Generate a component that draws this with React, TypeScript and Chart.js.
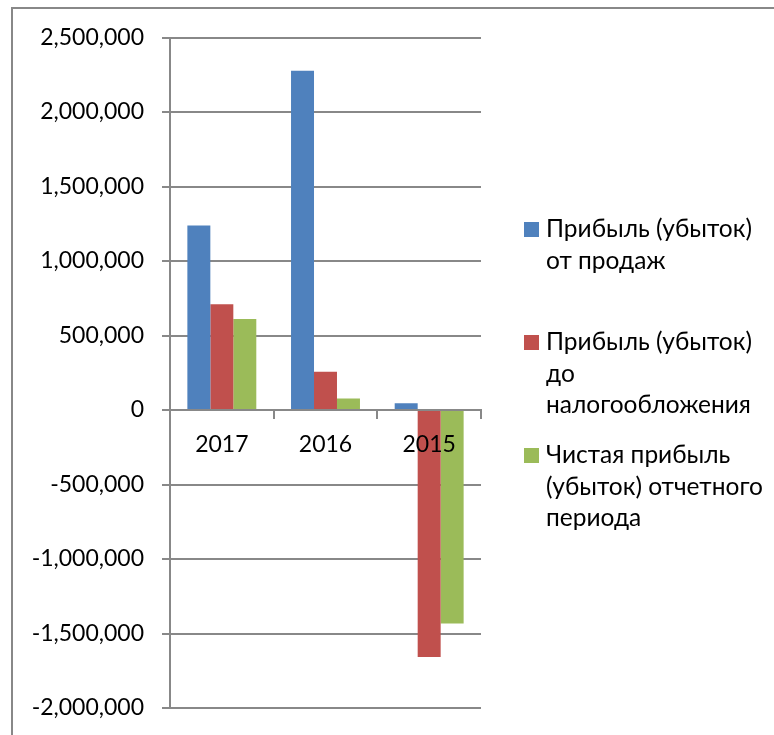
import React, { useEffect, useRef } from "react";
import { Chart, registerables } from "chart.js";

Chart.register(...registerables);

const categories = ["2017", "2016", "2015"];
const salesProfit = [1238000, 2277000, 45000];
const preTaxProfit = [710000, 257000, -1657000];
const netProfit = [611000, 78000, -1433000];
const seriesLabels = [
  ["Прибыль (убыток)", "от продаж"],
  ["Прибыль (убыток)", "до", "налогообложения"],
  ["Чистая прибыль", "(убыток) отчетного", "периода"],
];
const seriesColors = ["#4F81BD", "#C0504D", "#9BBB59"];
const yMin = -2000000;
const yMax = 2500000;
const yStep = 500000;

const FONT = "Lato, 'Open Sans', 'Noto Sans', sans-serif";
const GRID = "#888888";

export default function App() {
  const ref = useRef<HTMLCanvasElement | null>(null);

  useEffect(() => {
    if (!ref.current) return;
    const chart = new Chart(ref.current, {
      type: "bar",
      data: {
        labels: categories,
        datasets: [salesProfit, preTaxProfit, netProfit].map((d, i) => ({
          label: seriesLabels[i].join(" "),
          data: d,
          backgroundColor: seriesColors[i],
          borderWidth: 0,
          categoryPercentage: 0.665,
          barPercentage: 1,
        })),
      },
      options: {
        responsive: false,
        animation: false,
        layout: { padding: { left: 0, right: 293, top: 37.5, bottom: 27 } },
        plugins: { legend: { display: false }, tooltip: { enabled: false } },
        scales: {
          x: {
            position: { y: 0 },
            afterFit: (s: any) => {
              s.height = 0;
            },
            grid: {
              display: true,
              drawOnChartArea: false,
              drawTicks: true,
              tickLength: 8,
              offset: true,
              color: GRID,
              lineWidth: 2,
            },
            border: { display: true, color: GRID, width: 2 },
            ticks: {
              color: "#000",
              font: { family: FONT, size: 23 },
              padding: 13,
              maxRotation: 0,
              z: 1,
            },
          },
          y: {
            min: yMin,
            max: yMax,
            afterFit: (s: any) => {
              s.width = 170;
              s.paddingTop = 0;
              s.paddingBottom = 0;
            },
            grid: {
              color: GRID,
              lineWidth: 2,
              tickLength: 8,
              drawTicks: true,
            },
            border: { display: true, color: GRID, width: 2 },
            ticks: {
              stepSize: yStep,
              color: "#000",
              padding: 18,
              font: { family: FONT, size: 23 },
              callback: (v: any) => Number(v).toLocaleString("en-US"),
            },
          },
        },
      },
    });
    return () => chart.destroy();
  }, []);

  const itemTops = [212, 325, 438];

  return (
    <div
      style={{
        position: "fixed",
        left: 0,
        top: 0,
        width: 774,
        height: 735,
        background: "#fff",
        overflow: "hidden",
      }}
    >
      <div
        style={{
          position: "absolute",
          left: 11,
          top: 7,
          width: 800,
          height: 800,
          border: "2px solid #888",
          boxSizing: "border-box",
        }}
      />
      <canvas
        ref={ref}
        width={774}
        height={735}
        style={{ position: "absolute", left: 0, top: 0, width: 774, height: 735 }}
      />
      {seriesLabels.map((lines, i) => (
        <div
          key={i}
          style={{
            position: "absolute",
            left: 524,
            top: itemTops[i],
            fontFamily: FONT,
            fontSize: 24.5,
            lineHeight: "31.5px",
            color: "#000",
            whiteSpace: "nowrap",
          }}
        >
          <div
            style={{
              position: "absolute",
              left: 0,
              top: 10,
              width: 15,
              height: 15,
              background: seriesColors[i],
            }}
          />
          <div style={{ position: "absolute", left: 22, top: 0 }}>
            {lines.map((l, j) => (
              <div key={j}>{l}</div>
            ))}
          </div>
        </div>
      ))}
    </div>
  );
}
